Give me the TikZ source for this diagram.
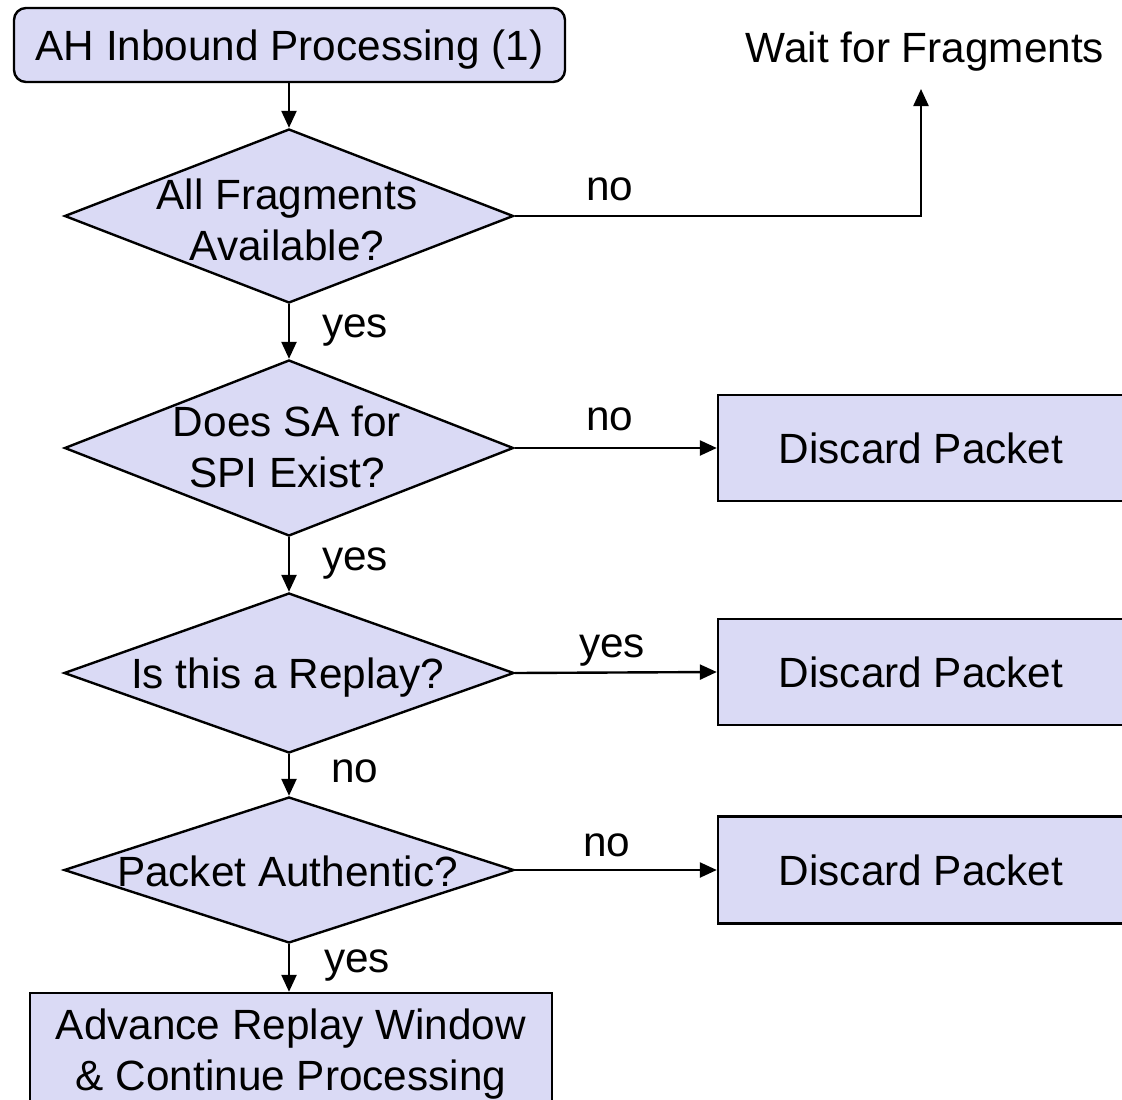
\documentclass[tikz,border=0pt]{standalone}
\usepackage{fontspec}
\setmainfont{Liberation Sans}
\usetikzlibrary{shapes.geometric,arrows.meta}
\definecolor{boxfill}{RGB}{218,218,245}
\begin{document}
\begin{tikzpicture}[x=1pt,y=-1pt,
  every node/.style={font=\fontsize{42.3}{51}\selectfont},
  proc/.style={draw, fill=boxfill, line width=2.4pt, inner sep=0pt, align=center},
  decision/.style={draw, fill=boxfill, line width=2.4pt, diamond, inner sep=0pt},
  dtext/.style={inner sep=0pt, align=center},
  lbl/.style={inner sep=0pt, text height=30pt, text depth=0pt},
  conn/.style={line width=2.4pt, -{Triangle[length=17pt,width=15pt]}},
]
\useasboundingbox (0,0) rectangle (1122,1100);

% process boxes
\node[proc, rounded corners=12pt, minimum width=551pt, minimum height=74pt,
      text height=30pt, text depth=0pt] (start) at (289.5,45) {AH Inbound Processing (1)};
\node[proc, minimum width=406pt, minimum height=106pt, text height=30pt, text depth=0pt]
      (disc1) at (921,448) {Discard Packet};
\node[proc, minimum width=406pt, minimum height=106pt, text height=30pt, text depth=0pt]
      (disc2) at (921,672) {Discard Packet};
\node[proc, minimum width=406pt, minimum height=107pt, text height=30pt, text depth=0pt]
      (disc3) at (921,870) {Discard Packet};
\node[proc, minimum width=522pt, minimum height=114pt] (adv) at (291,1050) {};
\node[dtext] (advt) at (291,1054) {Advance Replay Window\\\& Continue Processing};

% decisions
\node[decision, minimum width=449pt, minimum height=174pt] (d1) at (289,216) {};
\node[dtext] (d1t) at (287,220) {All Fragments\\Available?};
\node[decision, minimum width=449pt, minimum height=176pt] (d2) at (289,448) {};
\node[dtext] (d2t) at (287,447) {Does SA for\\SPI Exist?};
\node[decision, minimum width=450pt, minimum height=160pt] (d3) at (289,673) {};
\node[lbl] (d3t) at (287.5,673) {Is this a Replay?};
\node[decision, minimum width=450pt, minimum height=146pt] (d4) at (289,870) {};
\node[lbl] (d4t) at (287.5,871) {Packet Authentic?};

% wait target
\node[lbl] (wait) at (925,47) {Wait for Fragments};
\coordinate (waitin) at (921,89);

% connectors
\draw[conn] (start.south -| d1.north) -- (d1.north);
\draw[conn] (d1.south) -- (d2.north);
\draw[conn] (d2.south) -- (d3.north);
\draw[conn] (d3.south) -- (d4.north);
\draw[conn] (d4.south) -- (d4.south |- adv.north);
\draw[conn] (d1.east) -| (waitin);
\draw[conn] (d2.east) -- (disc1.west);
\draw[conn] (d3.east) -- (disc2.west);
\draw[conn] (d4.east) -- (disc3.west);

% edge labels
\node[lbl] (l1) at (610,185) {no};
\node[lbl] (l2) at (355,322) {yes};
\node[lbl] (l3) at (610,415) {no};
\node[lbl] (l4) at (355,555) {yes};
\node[lbl] (l5) at (612,642) {yes};
\node[lbl] (l6) at (355,767) {no};
\node[lbl] (l7) at (607,841) {no};
\node[lbl] (l8) at (357,957) {yes};
\end{tikzpicture}
\end{document}
